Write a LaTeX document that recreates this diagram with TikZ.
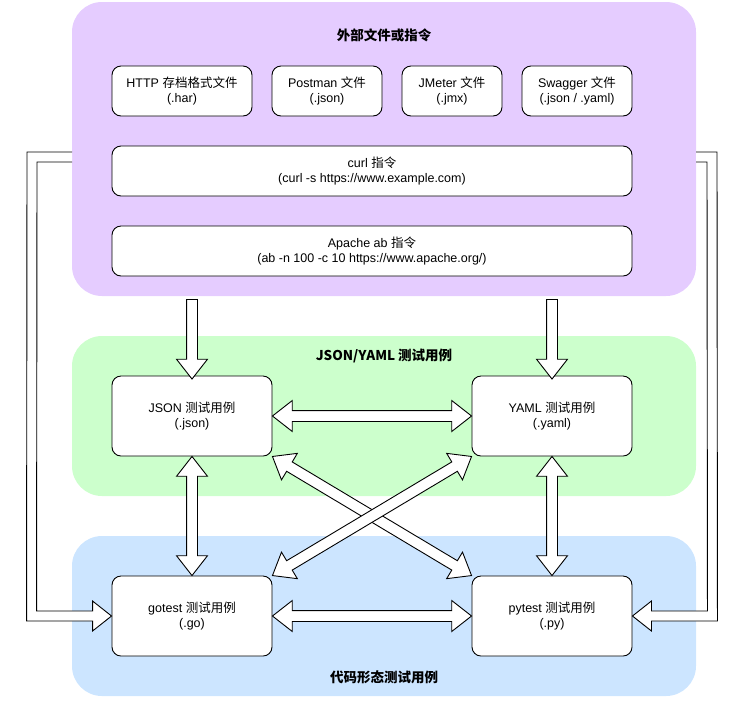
\documentclass[tikz,border=0pt]{standalone}
\usepackage{fontspec}
\setmainfont{Liberation Sans}
\newfontfamily\cjk{Noto Sans CJK SC}
\usetikzlibrary{shapes.arrows,calc}
\definecolor{purp}{HTML}{E5CCFF}
\definecolor{grn}{HTML}{CCFFCC}
\definecolor{blu}{HTML}{CCE5FF}
\tikzset{
  box/.style={draw,fill=white,rounded corners=9pt,align=center,inner sep=0pt,font=\fontsize{12.5}{15.5}\selectfont},
  ttl/.style={font=\fontsize{13.5}{15}\selectfont\cjk\bfseries},
  sarr/.style={single arrow,draw,fill=white,inner sep=5pt,single arrow head extend=10pt,single arrow tip angle=76},
  darr/.style={double arrow,draw,fill=white,inner sep=5pt,double arrow head extend=10pt,double arrow tip angle=76}
}
\newcommand\blk[3]{\path let \p1=(#2), \p2=(#3), \n1={atan2(\y2-\y1,\x2-\x1)}, \n2={veclen(\x2-\x1,\y2-\y1)} in node[#1,minimum height=\n2,rotate=\n1] at ($(\p1)!0.5!(\p2)$) {};}
\newcommand\cn[1]{{\cjk #1}}
\begin{document}
\begin{tikzpicture}[x=1pt,y=-1pt,line width=0.9pt]
  \useasboundingbox (0,0) rectangle (746,713);
  % panels
  \fill[purp,rounded corners=30pt] (72,2) rectangle (696,296);
  \fill[grn,rounded corners=30pt] (72,336) rectangle (696,496);
  \fill[blu,rounded corners=30pt] (72,536) rectangle (696,696);
  \coordinate (P) at (384,296);
  \node[ttl] (ext) at (384,35) {外部文件或指令};
  \node[ttl] (tc) at (384,356) {JSON/YAML 测试用例};
  \node[ttl] (code) at (384,677) {代码形态测试用例};
  % sources
  \node[box,minimum width=140pt,minimum height=50pt] (har) at (182,91) {HTTP \cn{存档格式文件}\\(.har)};
  \node[box,minimum width=110pt,minimum height=50pt] (pm) at (327,91) {Postman \cn{文件}\\(.json)};
  \node[box,minimum width=100pt,minimum height=50pt] (jm) at (452,91) {JMeter \cn{文件}\\(.jmx)};
  \node[box,minimum width=110pt,minimum height=50pt] (sw) at (577,91) {Swagger \cn{文件}\\(.json / .yaml)};
  \node[box,minimum width=520pt,minimum height=50pt] (curl) at (372,171) {curl \cn{指令}\\(curl -s https://www.example.com)};
  \node[box,minimum width=520pt,minimum height=50pt] (ab) at (372,251) {Apache ab \cn{指令}\\(ab -n 100 -c 10 https://www.apache.org/)};
  % test cases
  \node[box,minimum width=160pt,minimum height=80pt] (json) at (192,416) {JSON \cn{测试用例}\\(.json)};
  \node[box,minimum width=160pt,minimum height=80pt] (yaml) at (552,416) {YAML \cn{测试用例}\\(.yaml)};
  \node[box,minimum width=160pt,minimum height=80pt] (go) at (192,616) {gotest \cn{测试用例}\\(.go)};
  \node[box,minimum width=160pt,minimum height=80pt] (py) at (552,616) {pytest \cn{测试用例}\\(.py)};
  % arrows
  \blk{sarr}{json.north |- P}{json.north}
  \blk{sarr}{yaml.north |- P}{yaml.north}
  \blk{darr}{json.east}{yaml.west}
  \blk{darr}{go.east}{py.west}
  \blk{darr}{json.south}{go.north}
  \blk{darr}{yaml.south}{py.north}
  \blk{darr}{json.south east}{py.north west}
  \blk{darr}{yaml.south west}{go.north east}
  % side arrows
  \draw[fill=white] (72,152) -- (27,152) -- ($(go.west)+(-85,5)$) -- ($(go.west)+(-19,5)$) -- ($(go.west)+(-19,15)$) -- (go.west) -- ($(go.west)+(-19,-15)$) -- ($(go.west)+(-19,-5)$) -- ($(go.west)+(-75,-5)$) -- (37,162) -- (72,162);
  \draw[fill=white] (696,152) -- (717,152) -- ($(py.east)+(85,5)$) -- ($(py.east)+(19,5)$) -- ($(py.east)+(19,15)$) -- (py.east) -- ($(py.east)+(19,-15)$) -- ($(py.east)+(19,-5)$) -- ($(py.east)+(75,-5)$) -- (707,162) -- (696,162);
\end{tikzpicture}
\end{document}
